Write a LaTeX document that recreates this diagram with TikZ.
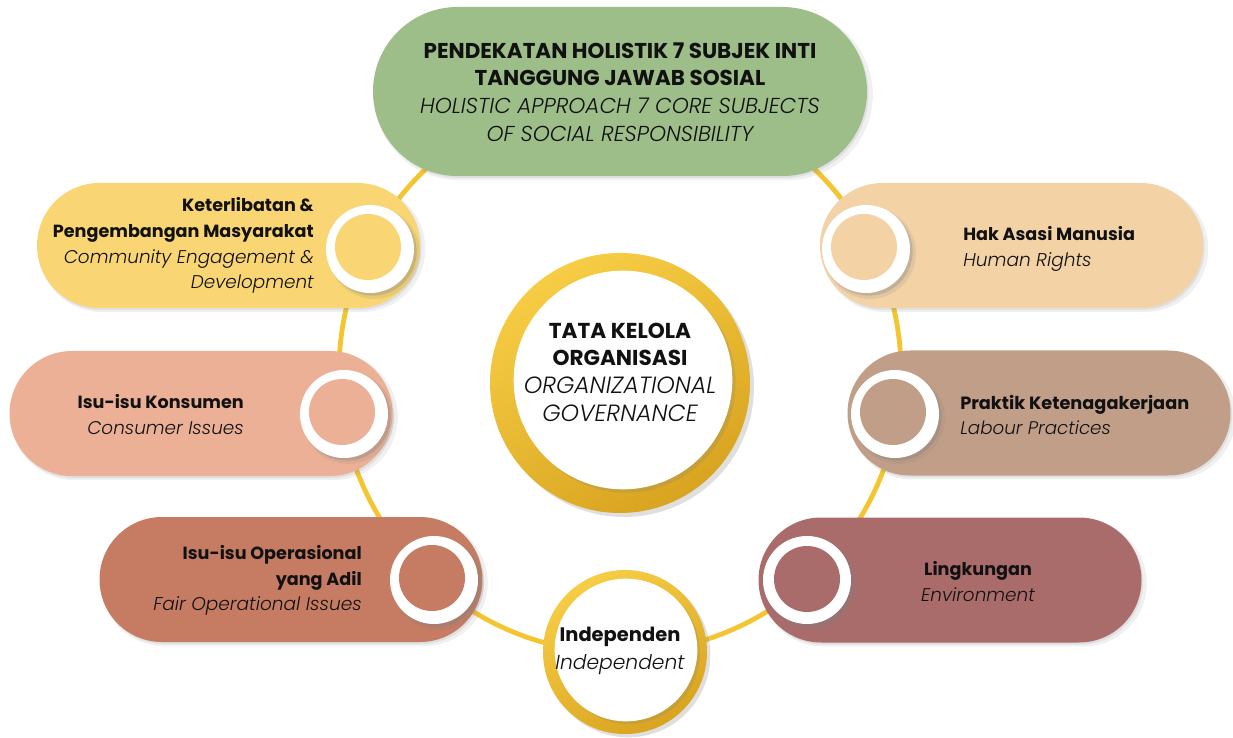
\documentclass[tikz,border=0pt]{standalone}
\usepackage{fontspec}
\IfFontExistsTF{Poppins Light Italic}
  {\setmainfont{Poppins}[BoldFont={Poppins Bold},ItalicFont={Poppins Light Italic}]}
  {\setmainfont{Poppins}}
\usetikzlibrary{shapes.misc,shadows}
\definecolor{ringY}{HTML}{F4C530}
\definecolor{goldL}{HTML}{F7CD45}
\definecolor{goldD}{HTML}{D9A420}
\definecolor{cTop}{HTML}{9DBD89}
\definecolor{cKet}{HTML}{F9D673}
\definecolor{cHak}{HTML}{F3D2A6}
\definecolor{cKon}{HTML}{EBB096}
\definecolor{cPra}{HTML}{C19E88}
\definecolor{cOpe}{HTML}{C57C63}
\definecolor{cLin}{HTML}{A96C6B}
\definecolor{txt}{HTML}{111111}
\newcommand\mybf[2]{{\fontsize{#1}{19pt}\selectfont\bfseries #2}}
\newcommand\myit[2]{{\fontsize{#1}{19pt}\selectfont\itshape #2}}
\tikzset{
  pill/.style={rounded rectangle, minimum width=287.25pt, minimum height=93.75pt, inner sep=0pt,
    drop shadow={opacity=0.12, shadow xshift=2.5pt, shadow yshift=-2.5pt, shadow scale=1.01},
    drop shadow={opacity=0.14, shadow xshift=1.2pt, shadow yshift=-1.5pt}},
  knob/.style={circle, fill=white, minimum size=66pt, inner sep=0pt,
    drop shadow={opacity=0.15, shadow xshift=3pt, shadow yshift=-3pt, shadow scale=1.04},
    drop shadow={opacity=0.3, shadow xshift=2pt, shadow yshift=-2pt}},
  dot/.style={circle, minimum size=49.5pt, inner sep=0pt},
  lbl/.style={inner sep=0pt, text=txt, font=\fontsize{13.2pt}{19.3pt}\selectfont},
  biglbl/.style={inner sep=0pt, text=txt, align=center, font=\fontsize{16pt}{20.7pt}\selectfont},
}
\begin{document}
\begin{tikzpicture}[x=0.75pt,y=-0.75pt]
\useasboundingbox (0,0) rectangle (1233,738);
% ring
\node[circle, draw=ringY, line width=3.6pt, minimum size=421.5pt, inner sep=0pt] (ring) at (620,372) {};
% top pill
\node[pill, fill=cTop, minimum width=370.5pt, minimum height=126.75pt] (top) at (620,91.5) {};
\node[biglbl] (toptxt) at (620,92) {\mybf{16.1pt}{PENDEKATAN HOLISTIK 7 SUBJEK INTI}\\\mybf{16.1pt}{TANGGUNG JAWAB SOSIAL}\\\myit{16.2pt}{HOLISTIC APPROACH 7 CORE SUBJECTS}\\\myit{16.2pt}{OF SOCIAL RESPONSIBILITY}};
% pills
\node[pill, fill=cKet] (p1) at (228.5,245.5) {};
\node[pill, fill=cHak] (p2) at (1011.5,245.5) {};
\node[pill, fill=cKon] (p3) at (201,413.5) {};
\node[pill, fill=cPra] (p4) at (1039,413) {};
\node[pill, fill=cOpe] (p5) at (291,579.5) {};
\node[pill, fill=cLin] (p6) at (950,580) {};
% knobs
\node[knob] (k1) at (370,249) {};
\node[dot, fill=cKet] (d1) at (368,247) {};
\node[knob] (k2) at (866,249) {};
\node[dot, fill=cHak] (d2) at (864,247) {};
\node[knob] (k3) at (344,414) {};
\node[dot, fill=cKon] (d3) at (342,412) {};
\node[knob] (k4) at (895,414) {};
\node[dot, fill=cPra] (d4) at (893,412) {};
\node[knob] (k5) at (434,580) {};
\node[dot, fill=cOpe] (d5) at (432,578) {};
\node[knob] (k6) at (807,580) {};
\node[dot, fill=cLin] (d6) at (807,579) {};
% labels
\node[lbl, anchor=east, align=right] (t1) at (314,245.5) {\mybf{13.2pt}{Keterlibatan \&}\\\mybf{13.2pt}{Pengembangan Masyarakat}\\\myit{13.8pt}{Community Engagement \&}\\\myit{13.8pt}{Development}};
\node[lbl, anchor=west, align=left] (t2) at (963,249) {\mybf{13.2pt}{Hak Asasi Manusia}\\\myit{13.9pt}{Human Rights}};
\node[lbl, anchor=east, align=right] (t3) at (244,414.5) {\mybf{13.2pt}{Isu-isu Konsumen}\\\myit{13.8pt}{Consumer Issues}};
\node[lbl, anchor=west, align=left] (t4) at (960,415) {\mybf{13.3pt}{Praktik Ketenagakerjaan}\\\myit{13.7pt}{Labour Practices}};
\node[lbl, anchor=east, align=right] (t5) at (362,580.5) {\mybf{13.2pt}{Isu-isu Operasional}\\\mybf{13.2pt}{yang Adil}\\\myit{13.9pt}{Fair Operational Issues}};
\node[lbl, align=center] (t6) at (978,581.5) {\mybf{13.2pt}{Lingkungan}\\\myit{13.8pt}{Environment}};
% central circle
\node[circle, minimum size=195pt, inner sep=0pt, top color=goldL, bottom color=goldD, shading angle=30,
  drop shadow={opacity=0.25, shadow xshift=3pt, shadow yshift=-3pt}] (govring) at (620,383) {};
\node[circle, fill=white, minimum size=164pt, inner sep=0pt,
  drop shadow={opacity=0.22, shadow xshift=2.5pt, shadow yshift=-2.5pt}] (gov) at (623,380) {};
\node[biglbl] (govtxt) at (620,372) {\mybf{16.2pt}{TATA KELOLA}\\\mybf{16.2pt}{ORGANISASI}\\\myit{17.6pt}{ORGANIZATIONAL}\\\myit{17.6pt}{GOVERNANCE}};
% independent circle
\node[circle, minimum size=123pt, inner sep=0pt, top color=goldL, bottom color=goldD, shading angle=30,
  drop shadow={opacity=0.25, shadow xshift=2.5pt, shadow yshift=-2.5pt}] (indring) at (625,652) {};
\node[circle, fill=white, minimum size=107pt, inner sep=0pt,
  drop shadow={opacity=0.22, shadow xshift=2pt, shadow yshift=-2pt}] (ind) at (626,650) {};
\node[biglbl, font=\fontsize{15pt}{21pt}\selectfont] (indtxt) at (620,651) {\mybf{14.6pt}{Independen}\\\myit{15.2pt}{Independent}};
\end{tikzpicture}
\end{document}
